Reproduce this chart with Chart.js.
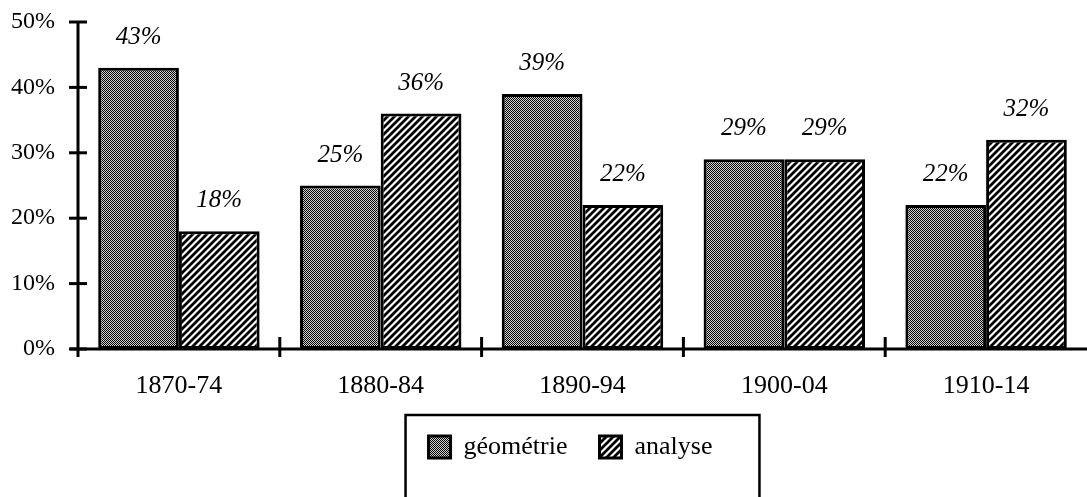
<!DOCTYPE html>
<html>
<head>
<meta charset="utf-8">
<script src="https://cdn.jsdelivr.net/npm/chart.js@4/dist/chart.umd.min.js"></script>
<style>
  body { margin: 0; background: #fff; }
</style>
</head>
<body>
<canvas id="bar-chart" width="1087" height="497"></canvas>
<script>
//Chart Data
const periods = ['1870-74', '1880-84', '1890-94', '1900-04', '1910-14'];
const geometrie = [43, 25, 39, 29, 22];
const analyse = [18, 36, 22, 29, 32];
const seriesNames = ['géométrie', 'analyse'];
const yMin = 0, yMax = 50, yStep = 10;

const canvas = document.getElementById('bar-chart');
const ctx = canvas.getContext('2d');

//Fill Patterns
function checkerPattern(){
    const c = document.createElement('canvas');
    c.width = 2; c.height = 2;
    const p = c.getContext('2d');
    p.fillStyle = '#d4d4d4';
    p.fillRect(0, 0, 2, 2);
    p.fillStyle = '#000';
    p.fillRect(0, 0, 1, 1);
    p.fillRect(1, 1, 1, 1);
    return ctx.createPattern(c, 'repeat');
}

function stripePattern(){
    const n = 7;
    const c = document.createElement('canvas');
    c.width = n; c.height = n;
    const p = c.getContext('2d');
    p.fillStyle = '#fff';
    p.fillRect(0, 0, n, n);
    p.strokeStyle = '#000';
    p.lineWidth = 2.8;
    p.beginPath();
    p.moveTo(0, n); p.lineTo(n, 0);
    p.moveTo(-1, 1); p.lineTo(1, -1);
    p.moveTo(n - 1, n + 1); p.lineTo(n + 1, n - 1);
    p.stroke();
    return ctx.createPattern(c, 'repeat');
}

//Axis lines and tick marks that cross the axes
const axisMarks = {
    id: 'axisMarks',
    afterDraw(chart){
        const c = chart.ctx, xs = chart.scales.x, ys = chart.scales.y;
        const left = chart.chartArea.left, bottom = chart.chartArea.bottom;
        const line = (x1, y1, x2, y2) => { c.beginPath(); c.moveTo(x1, y1); c.lineTo(x2, y2); c.stroke(); };
        c.save();
        c.strokeStyle = '#000';
        c.lineWidth = 3;
        line(left, chart.chartArea.top - 1, left, bottom + 8);
        line(left - 8, bottom, chart.chartArea.right, bottom);
        ys.ticks.forEach((t, i) => {
            const py = ys.getPixelForTick(i);
            line(left - 9, py, left + 9, py);
        });
        for(let i = 1; i < periods.length; i++){
            const px = (xs.getPixelForTick(i - 1) + xs.getPixelForTick(i)) / 2;
            line(px, bottom - 12, px, bottom + 8);
        }
        c.restore();
    }
};

//Value labels above the bars
const valueLabels = {
    id: 'valueLabels',
    afterDatasetsDraw(chart){
        const c = chart.ctx;
        c.save();
        c.fillStyle = '#000';
        c.font = 'italic 25px "Liberation Serif"';
        c.textAlign = 'center';
        c.textBaseline = 'alphabetic';
        chart.data.datasets.forEach((ds, di) => {
            chart.getDatasetMeta(di).data.forEach((bar, i) => {
                c.fillText(ds.data[i] + '%', bar.x, bar.y - 24);
            });
        });
        c.restore();
    }
};

//Legend sits a little left of the plot centre, with a frame round it
const legendFrame = {
    id: 'legendFrame',
    afterLayout(chart){
        chart.legend.left -= 12;
        chart.legend.right -= 12;
    },
    afterDraw(chart){
        const hb = chart.legend.legendHitBoxes;
        if(!hb || !hb.length) return;
        const last = hb[hb.length - 1];
        const left = hb[0].left - 23;
        const right = last.left + last.width + 47;
        const top = hb[0].top - 19;
        const c = chart.ctx;
        c.save();
        c.strokeStyle = '#000';
        c.lineWidth = 2.5;
        c.strokeRect(left, top, right - left, chart.height - top + 20);
        c.restore();
    }
};

Chart.defaults.font.family = '"Liberation Serif", "Times New Roman", serif';
Chart.defaults.color = '#000';

new Chart(ctx, {
    type: 'bar',
    data: {
        labels: periods,
        datasets: [{
            label: seriesNames[0],
            data: geometrie,
            backgroundColor: checkerPattern(),
            borderColor: '#000',
            borderWidth: 3,
            borderSkipped: false
        }, {
            label: seriesNames[1],
            data: analyse,
            backgroundColor: stripePattern(),
            borderColor: '#000',
            borderWidth: 3,
            borderSkipped: false
        }]
    },
    options: {
        responsive: false,
        animation: false,
        devicePixelRatio: 1,
        layout: { padding: { top: 22, right: 0, bottom: 27, left: 0 } },
        datasets: { bar: { categoryPercentage: 0.8, barPercentage: 1.0 } },
        scales: {
            x: {
                grid: { display: false, drawTicks: false },
                border: { display: false },
                ticks: { padding: 22, font: { size: 26 } },
                afterFit: s => { s.height = 53; }
            },
            y: {
                min: yMin,
                max: yMax,
                grid: { display: false, drawTicks: false },
                border: { display: false },
                ticks: {
                    stepSize: yStep,
                    padding: 23,
                    font: { size: 24 },
                    callback: v => v + '%'
                },
                afterFit: s => {
                    s.width = 78;
                    s.paddingTop = 0;
                    s.paddingBottom = 0;
                }
            }
        },
        plugins: {
            tooltip: { enabled: false },
            legend: {
                position: 'bottom',
                fullSize: false,
                labels: {
                    boxWidth: 22,
                    boxHeight: 22,
                    padding: 32,
                    font: { size: 26 }
                }
            }
        }
    },
    plugins: [axisMarks, valueLabels, legendFrame]
});
</script>
</body>
</html>
